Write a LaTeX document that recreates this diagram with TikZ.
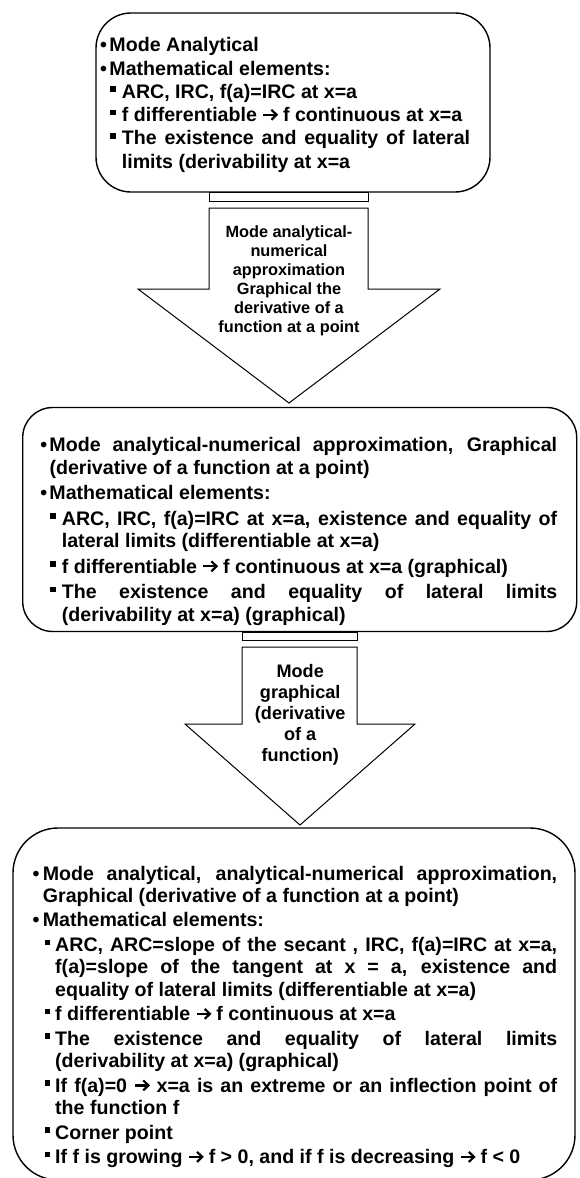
\documentclass[tikz,border=0pt]{standalone}
\usepackage{fontspec}
\setmainfont{Liberation Sans}
\usetikzlibrary{calc}
\newlength\iA \newlength\iB \newlength\iC \newlength\pgap
\newcommand\mybul{\hspace*{-0.5pt}•}
\newcommand\mysq{\rule[6.3pt]{5.3pt}{5.6pt}}
\newcommand\myarr{\tikz[baseline=0pt,x=1pt,y=1pt]{\draw[line width=2.2pt,line cap=butt] (0.3,6.8) -- (13,6.8);
  \draw[line width=2.2pt,line join=miter,line cap=butt] (8.2,1.8) -- (13.4,6.8) -- (8.2,11.8);}}
\newcommand\PA[1]{\noindent\makebox[\iA][l]{\mybul}#1\par}
\newcommand\PAj[1]{\noindent\makebox[\iA][l]{\mybul}\makebox[\dimexpr\linewidth-\iA\relax][s]{#1}\par}
\newcommand\PB[1]{\noindent\hspace*{\iB}\makebox[\dimexpr\iC-\iB\relax][l]{\mysq}#1\par}
\newcommand\PBj[1]{\noindent\hspace*{\iB}\makebox[\dimexpr\iC-\iB\relax][l]{\mysq}\makebox[\dimexpr\linewidth-\iC\relax][s]{#1}\par}
\newcommand\CA[1]{\noindent\hspace*{\iA}#1\par}
\newcommand\CB[1]{\noindent\hspace*{\iC}#1\par}
\newcommand\CBj[1]{\noindent\hspace*{\iC}\makebox[\dimexpr\linewidth-\iC\relax][s]{#1}\par}
\newcommand\ig{\vspace*{\pgap}}
\begin{document}
\begin{tikzpicture}[x=1pt,y=-1pt,
  box/.style={draw=black, line width=1.4pt, rounded corners=#1, inner sep=0pt, fill=white},
  txt/.style={inner sep=0pt, anchor=base west, text=black},
  atxt/.style={inner sep=0pt, anchor=base, text=black},
  blockarrow/.style={draw=black, line width=1pt, fill=white, line join=miter}]
\useasboundingbox (0,0) rectangle (579,1178);
\fill[white] (0,0) rectangle (579,1178);

% boxes
\node[box=35pt, minimum width=394pt, minimum height=179pt] (b1) at (293,102.5) {};
\node[box=30pt, minimum width=554pt, minimum height=224pt] (b2) at (299.7,519.5) {};
\node[box=45pt, minimum width=562pt, minimum height=352pt] (b3) at (294,1004) {};

% block arrow 1
\draw[blockarrow] (209,192) rectangle (368,201);
\draw[blockarrow] (209,208) -- (368,208) -- (368,289) -- (440,289) -- (289,403) -- (138,289) -- (209,289) -- cycle;
\node[atxt] (a1) at (289,237.7) {\parbox[t]{200pt}{\centering\fontsize{16.3}{19}\selectfont\bfseries
Mode analytical-\\numerical\\approximation\\Graphical the\\derivative of a\\function at a point}};

% block arrow 2
\draw[blockarrow] (242,632) rectangle (357,640);
\draw[blockarrow] (242,647) -- (357,647) -- (357,724) -- (415,724) -- (300,825) -- (185,724) -- (242,724) -- cycle;
\node[atxt] (a2) at (300.2,677) {\parbox[t]{200pt}{\centering\fontsize{18.1}{21}\selectfont\bfseries
Mode\\graphical\\(derivative\\of a\\function)}};

% text box 1
\node[txt] (t1) at (100.5,51.7) {\parbox[t]{369.5pt}{\fontsize{19.6}{23.3}\selectfont\bfseries
\setlength\iA{8.8pt}\setlength\iB{9.5pt}\setlength\iC{21.2pt}\setlength\pgap{0pt}%
\PA{Mode Analytical}
\PA{Mathematical elements:}
\PB{ARC, IRC, f(a)=IRC at x=a}
\PB{f differentiable \myarr\ f continuous at x=a}
\PBj{The existence and equality of lateral}
\CB{limits (derivability at x=a}}};

% text box 2
\node[txt] (t2) at (40.7,451.6) {\parbox[t]{516.3pt}{\fontsize{19.6}{22.5}\selectfont\bfseries
\setlength\iA{8.6pt}\setlength\iB{9.3pt}\setlength\iC{21pt}\setlength\pgap{3pt}%
\PAj{Mode analytical-numerical approximation, Graphical}
\CA{(derivative of a function at a point)}\ig
\PA{Mathematical elements:}\ig
\PBj{ARC, IRC, f(a)=IRC at x=a, existence and equality of}
\CB{lateral limits (differentiable at x=a)}\ig
\PB{f differentiable \myarr\ f continuous at x=a (graphical)}\ig
\PBj{The existence and equality of lateral limits}
\CB{(derivability at x=a) (graphical)}}};

% text box 3
\node[txt] (t3) at (33,880) {\parbox[t]{524pt}{\fontsize{19.6}{22.3}\selectfont\bfseries
\setlength\iA{9.7pt}\setlength\iB{12pt}\setlength\iC{22pt}\setlength\pgap{2.3pt}%
\PAj{Mode analytical, analytical-numerical approximation,}
\CA{Graphical (derivative of a function at a point)}\ig
\PA{Mathematical elements:}\ig
\PBj{ARC, ARC=slope of the secant , IRC, f(a)=IRC at x=a,}
\CBj{f(a)=slope of the tangent at x = a, existence and}
\CB{equality of lateral limits (differentiable at x=a)}\ig
\PB{f differentiable \myarr\ f continuous at x=a}\ig
\PBj{The existence and equality of lateral limits}
\CB{(derivability at x=a) (graphical)}\ig
\PBj{If f(a)=0 \myarr\ x=a is an extreme or an inflection point of}
\CB{the function f}\ig
\PB{Corner point}\ig
\PB{If f is growing \myarr\ f > 0, and if f is decreasing \myarr\ f < 0}}};
\end{tikzpicture}
\end{document}
